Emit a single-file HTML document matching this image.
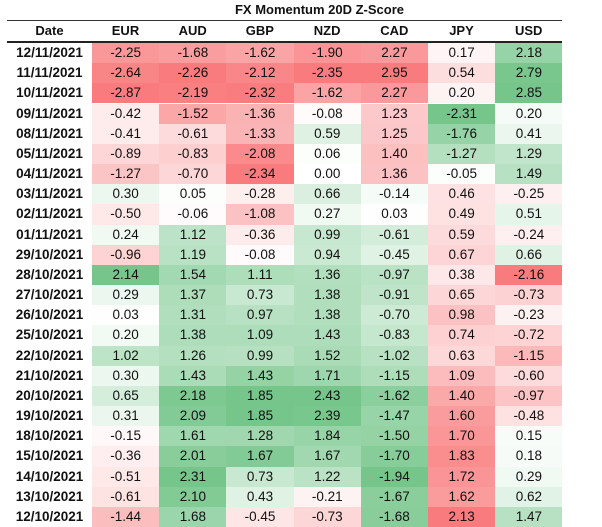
<!DOCTYPE html>
<html><head><meta charset="utf-8"><style>
body{margin:0;background:#fff;width:602px;height:526px;overflow:hidden;font-family:"Liberation Sans",Arial,sans-serif;color:#111}
#t{position:absolute;left:7px;top:0;width:555px}
.title{position:absolute;left:0;top:2px;width:555px;text-align:center;font-weight:bold;font-size:13px;padding-left:70px;box-sizing:border-box}
.l1{position:absolute;left:0;top:20px;width:555px;height:1px;background:#333}
.l2{position:absolute;left:0;top:41px;width:555px;height:2px;background:#222}
.hd{position:absolute;top:23px;font-weight:bold;font-size:13px;text-align:center}
.c{position:absolute;height:20.17px;line-height:20px;text-align:center;font-size:13.5px}
.d{font-weight:bold;font-size:13.5px}
</style></head><body><div id="t">
<div class="title">FX Momentum 20D Z-Score</div><div class="l1"></div><div class="l2"></div>
</div>
<script>
const dates=["12/11/2021","11/11/2021","10/11/2021","09/11/2021","08/11/2021","05/11/2021","04/11/2021","03/11/2021","02/11/2021","01/11/2021","29/10/2021","28/10/2021","27/10/2021","26/10/2021","25/10/2021","22/10/2021","21/10/2021","20/10/2021","19/10/2021","18/10/2021","15/10/2021","14/10/2021","13/10/2021","12/10/2021"];
const D=[
[-2.25,-1.68,-1.62,-1.90,2.27,0.17,2.18],
[-2.64,-2.26,-2.12,-2.35,2.95,0.54,2.79],
[-2.87,-2.19,-2.32,-1.62,2.27,0.20,2.85],
[-0.42,-1.52,-1.36,-0.08,1.23,-2.31,0.20],
[-0.41,-0.61,-1.33,0.59,1.25,-1.76,0.41],
[-0.89,-0.83,-2.08,0.06,1.40,-1.27,1.29],
[-1.27,-0.70,-2.34,0.00,1.36,-0.05,1.49],
[0.30,0.05,-0.28,0.66,-0.14,0.46,-0.25],
[-0.50,-0.06,-1.08,0.27,0.03,0.49,0.51],
[0.24,1.12,-0.36,0.99,-0.61,0.59,-0.24],
[-0.96,1.19,-0.08,0.94,-0.45,0.67,0.66],
[2.14,1.54,1.11,1.36,-0.97,0.38,-2.16],
[0.29,1.37,0.73,1.38,-0.91,0.65,-0.73],
[0.03,1.31,0.97,1.38,-0.70,0.98,-0.23],
[0.20,1.38,1.09,1.43,-0.83,0.74,-0.72],
[1.02,1.26,0.99,1.52,-1.02,0.63,-1.15],
[0.30,1.43,1.43,1.71,-1.15,1.09,-0.60],
[0.65,2.18,1.85,2.43,-1.62,1.40,-0.97],
[0.31,2.09,1.85,2.39,-1.47,1.60,-0.48],
[-0.15,1.61,1.28,1.84,-1.50,1.70,0.15],
[-0.36,2.01,1.67,1.67,-1.70,1.83,0.18],
[-0.51,2.31,0.73,1.22,-1.94,1.72,0.29],
[-0.61,2.10,0.43,-0.21,-1.67,1.62,0.62],
[-1.44,1.68,-0.45,-0.73,-1.68,2.13,1.47]];
const heads=["EUR","AUD","GBP","NZD","CAD","JPY","USD"];
const inv=[0,0,0,0,1,1,0];
const t=document.getElementById('t');
let h='<div class="hd" style="left:0;width:85px">Date</div>';
heads.forEach((x,i)=>h+=`<div class="hd" style="left:${85+i*67.2}px;width:67px">${x}</div>`);
const R=[248,105,107],G=[99,190,123],W=[255,255,255];
function mix(a,b,f){f*=0.88;return `rgb(${a.map((v,i)=>Math.round(v+(b[i]-v)*f)).join(',')})`}
for(let c=0;c<7;c++){
 const col=D.map(r=>r[c]);const mn=Math.min(...col),mx=Math.max(...col);
 D.forEach((r,i)=>{const v=r[c];let bg;
  let lo=inv[c]?G:R,hi=inv[c]?R:G;
  bg=v<0?mix(W,lo,v/mn):mix(W,hi,mx?v/mx:0);
  h+=`<div class="c" style="left:${85+c*67.2}px;width:67.3px;top:${43+i*20.17}px;background:${bg}">${v.toFixed(2)}</div>`;});
}
dates.forEach((d,i)=>h+=`<div class="c d" style="left:0;width:85px;top:${43+i*20.17}px">${d}</div>`);
t.insertAdjacentHTML('beforeend',h);
</script></body></html>
